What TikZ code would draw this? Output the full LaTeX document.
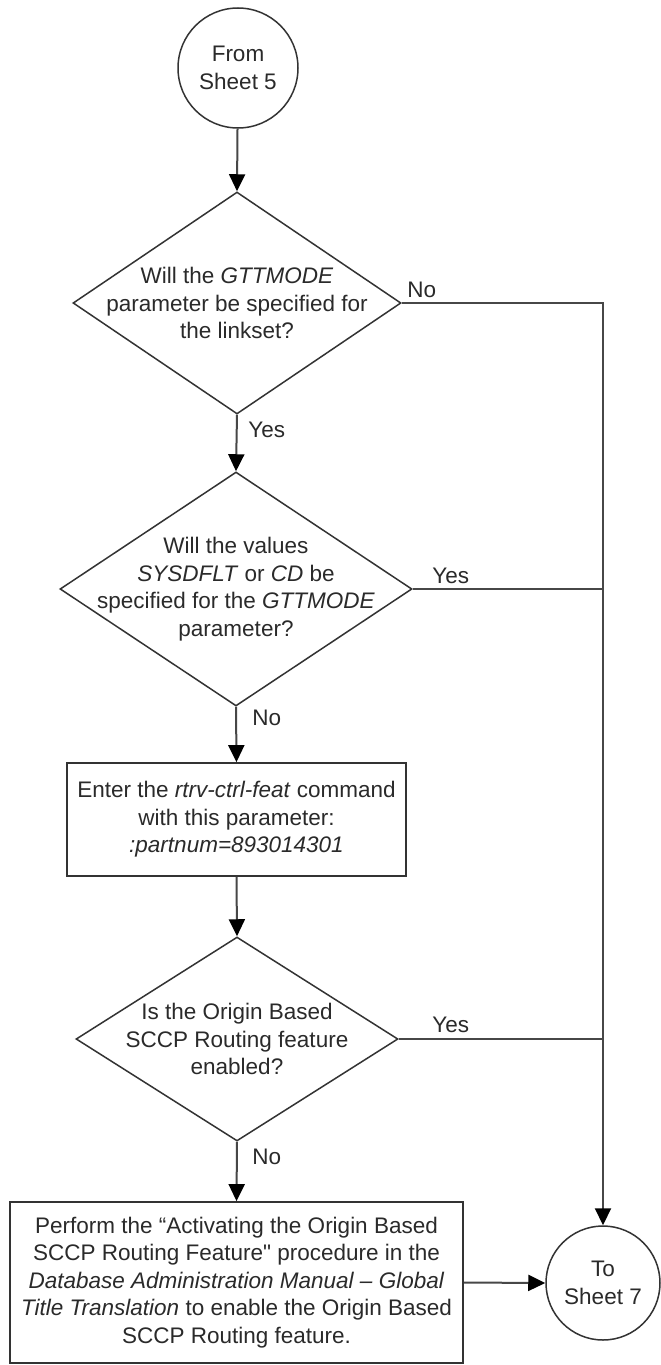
\documentclass[tikz,border=0pt]{standalone}
\usepackage{fontspec}
% a family without TeX ligature mapping, so " stays a straight quote
\newfontfamily\diagfont{Liberation Sans}
\usetikzlibrary{shapes.geometric,arrows.meta}

\definecolor{ink}{HTML}{2A2A2A}
\definecolor{edge}{HTML}{333333}
\definecolor{wire}{HTML}{474747}

\tikzset{
  txt/.style={font=\diagfont\fontsize{11.25pt}{13.75pt}\selectfont, text=ink, align=center, inner sep=0pt},
  decision/.style={diamond, draw=edge, line width=0.75pt, inner sep=0pt, aspect=1},
  stepbox/.style={rectangle, draw=edge, line width=0.9pt, inner sep=1pt, txt},
  connector/.style={circle, draw=edge, line width=0.75pt, inner sep=0pt, txt},
  wireline/.style={draw=wire, line width=1pt},
  flow/.style={wireline, -{Triangle[length=8.5pt,width=8pt,black]}},
  lbl/.style={txt, anchor=base west}
}

\begin{document}
\begin{tikzpicture}[x=0.5pt,y=-0.5pt]
  % page frame
  \fill[white] (0,0) rectangle (660,1365);
  \useasboundingbox (0,0) rectangle (660,1365);

  % off-page connectors
  \node[connector, minimum size=60pt] (c1) at (238,68) {From\\Sheet 5};
  \node[connector, minimum size=57pt] (c2) at (603,1283) {To\\Sheet 7};

  % first decision
  \node[decision, minimum width=164pt, minimum height=111pt] (d1) at (237,303) {};
  \node[txt] (d1t) at (237,303) {Will the \textit{GTTMODE}\\parameter be specified for\\the linkset?};

  % second decision
  \node[decision, minimum width=176pt, minimum height=117pt] (d2) at (236,589) {};
  \node[txt] (d2t) at (236,589) {Will the values\\\textit{SYSDFLT} or \textit{CD} be\\specified for the \textit{GTTMODE}\\parameter?};

  % retrieve command step
  \node[stepbox, minimum width=169.5pt, minimum height=56.5pt] (b1) at (236.5,819.5)
    {Enter the \textit{rtrv-ctrl-feat} command\\with this parameter:\\\textit{:partnum=893014301}};

  % third decision
  \node[decision, minimum width=161pt, minimum height=102pt] (d3) at (237,1039) {};
  \node[txt] (d3t) at (237,1039) {Is the Origin Based\\SCCP Routing feature\\enabled?};

  % activation step
  \node[stepbox, minimum width=226.5pt, minimum height=80.5pt] (b2) at (236.5,1282.5)
    {Perform the “Activating the Origin Based\\SCCP Routing Feature" procedure in the\\\textit{Database Administration Manual – Global}\\\textit{Title Translation} to enable the Origin Based\\SCCP Routing feature.};

  % bypass column on the right
  \coordinate (j1) at (603,303);

  % main flow
  \draw[flow] (c1) -- (d1.north);
  \draw[flow] (d1.south) -- (d2.north);
  \draw[flow] (d2.south) -- (b1.north);
  \draw[flow] (b1.south) -- (d3.north);
  \draw[flow] (d3.south) -- (b2.north);
  \draw[flow] (b2.east) -- (c2.west);

  % branches joining the right column
  \draw[flow] (d1.east) -- (j1) -- (c2.north);
  \draw[wireline] (d2.east) -- (d2.east -| j1);
  \draw[wireline] (d3.east) -- (d3.east -| j1);

  % branch labels
  \node[lbl] (l1) at (248,437) {Yes};
  \node[lbl] (l2) at (407,297) {No};
  \node[lbl] (l3) at (432,583) {Yes};
  \node[lbl] (l4) at (252,725) {No};
  \node[lbl] (l5) at (432,1032) {Yes};
  \node[lbl] (l6) at (252,1164) {No};
\end{tikzpicture}
\end{document}
